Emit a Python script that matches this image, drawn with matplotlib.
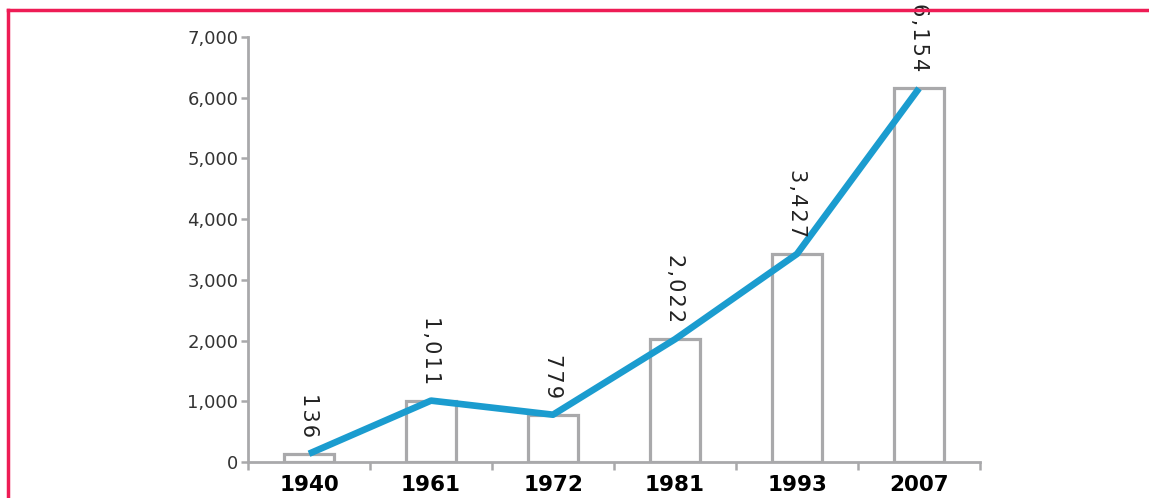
import matplotlib
matplotlib.use("Agg")
import matplotlib.pyplot as plt
from matplotlib.lines import Line2D

years = ["1940", "1961", "1972", "1981", "1993", "2007"]
values = [136, 1011, 779, 2022, 3427, 6154]
value_labels = ["136", "1,011", "779", "2,022", "3,427", "6,154"]
y_ticks = [0, 1000, 2000, 3000, 4000, 5000, 6000, 7000]
y_tick_labels = ["0", "1,000", "2,000", "3,000", "4,000", "5,000", "6,000", "7,000"]

W, H = 1149, 498
fig = plt.figure(figsize=(W / 100, H / 100), dpi=100)
fig.patch.set_facecolor("white")

ax = fig.add_axes([248 / W, 1 - 462 / H, (980 - 248) / W, (462 - 37) / H])
x = list(range(len(years)))

gray = "#a9a9ab"
ax.bar(x, values, width=0.41, facecolor="white", edgecolor=gray, linewidth=2.3, zorder=2)
ax.plot(x, values, color="#1b9ccf", linewidth=4.8, zorder=3, solid_capstyle="butt")


def spaced(s):
    return "\u200a".join(s)


for xi, v, lab in zip(x, values, value_labels):
    ax.annotate(spaced(lab), (xi, v), xytext=(0, 12), textcoords="offset points",
                rotation=270, ha="center", va="bottom", fontsize=15,
                color="#222222", zorder=4, annotation_clip=False)

ax.set_xlim(-0.5, len(years) - 0.5)
ax.set_ylim(0, 7000)
ax.set_yticks(y_ticks)
ax.set_yticklabels(y_tick_labels, fontsize=13, color="#333333")
ax.set_xticks([i - 0.5 for i in range(len(years) + 1)], minor=False)
ax.set_xticklabels([])
ax.set_xticks(x, minor=True)
ax.set_xticklabels(years, minor=True, fontsize=15.5, fontweight="bold", color="black")
ax.tick_params(axis="x", which="major", length=6, width=1.8, color=gray, direction="out")
ax.tick_params(axis="x", which="minor", length=0, pad=9)
ax.tick_params(axis="y", length=5, width=1.8, color=gray, pad=2)

for s in ["top", "right"]:
    ax.spines[s].set_visible(False)
for s in ["left", "bottom"]:
    ax.spines[s].set_color(gray)
    ax.spines[s].set_linewidth(2)

red = "#ee1c55"
fig.add_artist(Line2D([7.5 / W, 1.0], [1 - 10.5 / H, 1 - 10.5 / H], color=red, linewidth=2.5,
                      transform=fig.transFigure, solid_capstyle="projecting"))
fig.add_artist(Line2D([7.5 / W, 7.5 / W], [0, 1 - 10.5 / H], color=red, linewidth=2.5,
                      transform=fig.transFigure, solid_capstyle="projecting"))

fig.savefig("out.png", dpi=100, facecolor="white")
